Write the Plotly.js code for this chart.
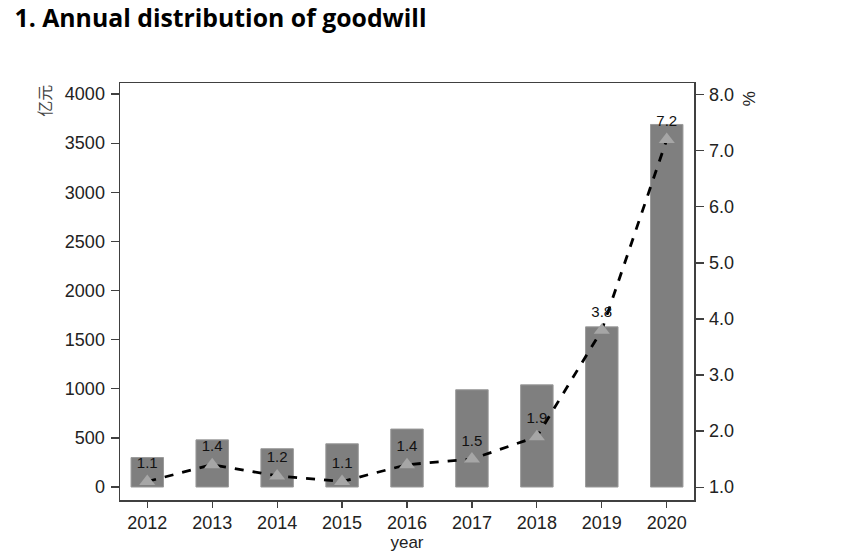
<!DOCTYPE html>
<html><head><meta charset="utf-8">
<script src="https://cdn.plot.ly/plotly-3.0.1.min.js"></script>
<style>body{margin:0;background:#fff}#c{width:854px;height:558px}</style>
</head><body><div id="c"></div>
<script>
const years = ['2012','2013','2014','2015','2016','2017','2018','2019','2020'];
const goodwill = [300, 480, 390, 440, 590, 990, 1040, 1630, 3690];
const ratio = [1.1, 1.4, 1.2, 1.1, 1.4, 1.5, 1.9, 3.8, 7.2];
const ratioLabels = ['1.1','1.4','1.2','1.1','1.4','1.5','1.9','3.8','7.2'];

const tickFont = {family:'Liberation Sans, Arial, sans-serif', size:18, color:'#222'};
const axisCommon = {showline:true, linecolor:'#404040', linewidth:1.5, ticks:'outside', ticklen:8, tickcolor:'#404040', tickwidth:1.2, showgrid:false, zeroline:false, tickfont:tickFont, ticklabelstandoff:2};

const traces = [
  {type:'bar', x:years, y:goodwill, width:0.5,
   marker:{color:'#7f7f7f', line:{color:'#9a9a9a', width:1}}, hoverinfo:'skip'},
  {type:'scatter', x:years, y:ratio, yaxis:'y2', mode:'lines+markers+text',
   text:ratioLabels, textposition:'top center',
   textfont:{family:'Liberation Sans, Arial, sans-serif', size:15, color:'#111'},
   line:{color:'#000', width:2.8, dash:'dash'},
   marker:{symbol:'triangle-up', size:14, color:'#a6a6a6'}, cliponaxis:false}
];

const layout = {
  width:854, height:558,
  margin:{l:120, r:160, t:83, b:58},
  paper_bgcolor:'#fff', plot_bgcolor:'#fff',
  showlegend:false,
  title:{text:'<b>1. Annual distribution of goodwill</b>', x:0.017, xanchor:'left', y:0.968, yanchor:'middle',
         font:{family:'Open Sans, sans-serif', size:24.8, color:'#000'}},
  xaxis:Object.assign({}, axisCommon, {type:'category', range:[-0.42, 8.42], mirror:true, ticklen:6, ticklabelstandoff:0,
         title:{text:'year', standoff:0, font:{family:'Liberation Sans, Arial, sans-serif', size:17, color:'#222'}}}),
  yaxis:Object.assign({}, axisCommon, {range:[-132, 4112], dtick:500, tick0:0}),
  yaxis2:Object.assign({}, axisCommon, {overlaying:'y', side:'right', range:[0.77, 8.21], dtick:1, tick0:0, tickformat:'.1f'}),
  annotations:[
    {text:'亿元', xref:'paper', yref:'paper', x:-0.133, y:1.0, xanchor:'center', yanchor:'top', textangle:-90, showarrow:false,
     font:{family:'Noto Sans CJK SC, sans-serif', size:16, color:'#444'}},
    {text:'%', xref:'paper', yref:'paper', x:1.095, y:0.985, xanchor:'center', yanchor:'top', textangle:90, showarrow:false,
     font:{family:'Liberation Sans, Arial, sans-serif', size:17, color:'#222'}}
  ]
};
Plotly.newPlot('c', traces, layout, {staticPlot:true, displayModeBar:false});
</script></body></html>
